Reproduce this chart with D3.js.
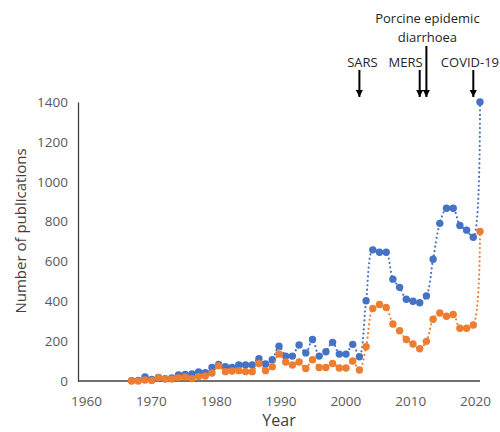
<!DOCTYPE html>
<html>
<head>
<meta charset="utf-8">
<script src="https://cdn.jsdelivr.net/npm/d3@7"></script>
<style>
  body { margin: 0; background: #fff; }
  svg { display: block; }
  text { font-family: "Open Sans", sans-serif; }
</style>
</head>
<body>
<svg id="chart" width="500" height="432"></svg>
<script>
// data
const years = [
  1969, 1970, 1971, 1972, 1973, 1974, 1975, 1976, 1977, 1978,
  1979, 1980, 1981, 1982, 1983, 1984, 1985, 1986, 1987, 1988,
  1989, 1990, 1991, 1992, 1993, 1994, 1995, 1996, 1997, 1998,
  1999, 2000, 2001, 2002, 2003, 2004, 2005, 2006, 2007, 2008,
  2009, 2010, 2011, 2012, 2013, 2014, 2015, 2016, 2017, 2018,
  2019, 2020, 2021
];
const blueSeries = [
  2, 3, 20, 8, 18, 12, 15, 30, 33, 36,
  45, 42, 68, 83, 72, 68, 80, 80, 80, 112,
  85, 107, 175, 125, 125, 181, 141, 208, 125, 147,
  194, 135, 135, 184, 122, 403, 658, 646, 646, 511,
  470, 410, 400, 393, 427, 611, 791, 867, 867, 780,
  757, 721, 1400
];
const orangeSeries = [
  0, 0, 5, 3, 17, 10, 10, 17, 20, 12,
  22, 25, 40, 76, 47, 50, 52, 47, 47, 88,
  52, 72, 136, 95, 80, 95, 63, 107, 68, 68,
  88, 65, 65, 100, 55, 172, 364, 384, 369, 286,
  252, 208, 186, 162, 199, 310, 341, 325, 334, 265,
  265, 281, 750
];
const xTickLabels = [1960, 1970, 1980, 1990, 2000, 2010, 2020];
const yTickLabels = [0, 200, 400, 600, 800, 1000, 1200, 1400];
const eventNames = ["SARS", "MERS", "Porcine epidemic diarrhoea", "COVID-19"];
const eventYears = [2003, 2012, 2013, 2020];

const svg = d3.select("#chart");
const plotLeft = 78, plotRight = 480, plotTop = 102, plotBottom = 381;
const blue = "#4472C4", orange = "#ED7D31";

// point positions
const x = d3.scaleLinear().domain([1961, 2021]).range([plotLeft, plotRight]);
// the year labels in the source sit on a slightly tighter spacing than the points
const xLabels = d3.scaleLinear().domain([1960, 2020]).range([86, 475]);
const y = d3.scaleLinear().domain([0, 1400]).range([plotBottom, plotTop]);

// y axis
const yAxis = svg.append("g")
  .attr("transform", `translate(${plotLeft},0)`)
  .call(d3.axisLeft(y).tickValues(yTickLabels).tickFormat(d3.format("d"))
    .tickSize(0).tickSizeOuter(0).tickPadding(10));
yAxis.select(".domain").attr("stroke", "#404040").attr("stroke-width", 1.3);
yAxis.selectAll("text").attr("fill", "#595959").style("font-size", "13.5px");

// x axis
svg.append("line")
  .attr("x1", plotLeft).attr("x2", plotRight)
  .attr("y1", plotBottom).attr("y2", plotBottom)
  .attr("stroke", "#404040").attr("stroke-width", 1.3);
const xAxis = svg.append("g")
  .attr("transform", `translate(0,${plotBottom})`)
  .call(d3.axisBottom(xLabels).tickValues(xTickLabels).tickFormat(d3.format("d")).tickSize(0).tickPadding(15));
xAxis.select(".domain").remove();
xAxis.selectAll("text").attr("fill", "#595959").style("font-size", "13.5px");

// axis titles
svg.append("text")
  .attr("transform", "translate(26,231) rotate(-90)")
  .attr("text-anchor", "middle")
  .attr("fill", "#404040")
  .style("font-size", "15px")
  .text("Number of publications");
svg.append("text")
  .attr("x", 279).attr("y", 426)
  .attr("text-anchor", "middle")
  .attr("fill", "#404040")
  .style("font-size", "16px")
  .text("Year");

// series
const line = d3.line().x(d => x(d[0])).y(d => y(d[1])).curve(d3.curveCatmullRom);
function drawSeries(values, color) {
  const pts = years.map((yr, i) => [yr, values[i]]);
  svg.append("path")
    .datum(pts)
    .attr("d", line)
    .attr("fill", "none")
    .attr("stroke", color)
    .attr("stroke-width", 2.2)
    .attr("stroke-linecap", "round")
    .attr("stroke-dasharray", "0.01 4.4");
  svg.append("g").selectAll("circle")
    .data(pts)
    .enter()
    .append("circle")
    .attr("cx", d => x(d[0]))
    .attr("cy", d => y(d[1]))
    .attr("r", 3.7)
    .attr("fill", color);
}
drawSeries(blueSeries, blue);
drawSeries(orangeSeries, orange);

// event arrows
svg.append("defs").append("marker")
  .attr("id", "head")
  .attr("viewBox", "0 0 10 10")
  .attr("refX", 10).attr("refY", 5)
  .attr("markerWidth", 7).attr("markerHeight", 7)
  .attr("markerUnits", "userSpaceOnUse")
  .attr("orient", "auto")
  .append("path")
  .attr("d", "M0,0L10,5L0,10Z")
  .attr("fill", "#000");

const arrowTop = [70, 70, 46, 70];
eventYears.forEach((yr, i) => {
  svg.append("line")
    .attr("x1", x(yr)).attr("x2", x(yr))
    .attr("y1", arrowTop[i]).attr("y2", 97)
    .attr("stroke", "#000")
    .attr("stroke-width", 2)
    .attr("marker-end", "url(#head)");
});

const note = (txt, xx, yy, anchor) => svg.append("text")
  .attr("x", xx).attr("y", yy)
  .attr("text-anchor", anchor)
  .attr("fill", "#262626")
  .style("font-size", "13px")
  .text(txt);
note(eventNames[0], x(eventYears[0]) + 3, 67, "middle");
note(eventNames[1], x(eventYears[1]) + 3, 67, "end");
const ped = eventNames[2].split(" ");
note(ped[0] + " " + ped[1], x(eventYears[2]) + 1, 23, "middle");
note(ped[2], x(eventYears[2]) + 1, 42, "middle");
// sits against the right edge, as in the source
note(eventNames[3], 499, 67, "end");
</script>
</body>
</html>
